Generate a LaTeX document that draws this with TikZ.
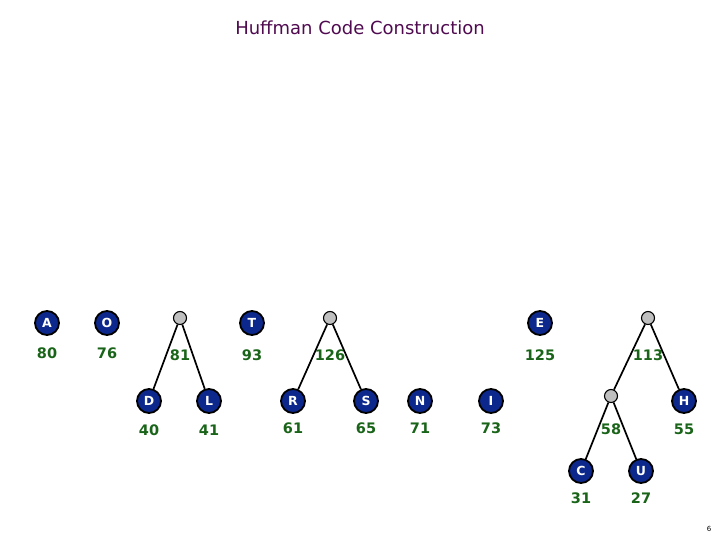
\documentclass[tikz,border=0pt]{standalone}
\usepackage{fontspec}
\setmainfont{DejaVu Sans}
\usetikzlibrary{positioning}
\definecolor{nodeblue}{RGB}{12,40,140}
\definecolor{wtgreen}{RGB}{25,100,25}
\definecolor{ttlpurple}{RGB}{80,10,80}
\tikzset{
    leaf/.style={circle,draw=black,line width=1.8pt,fill=nodeblue,minimum size=24pt,inner sep=0pt,
        text=white,font=\fontsize{12.5}{12.5}\selectfont\bfseries},
    inner/.style={circle,draw=black,line width=1.1pt,fill=black!25,minimum size=13pt,inner sep=0pt},
    wt/.style={text=wtgreen,font=\fontsize{14.5}{14.5}\selectfont\bfseries},
    edge/.style={line width=1.7pt}
}
\begin{document}
\begin{tikzpicture}[x=1pt,y=-1pt]
    \useasboundingbox (0,0) rectangle (720,540);
    \node[text=ttlpurple,font=\fontsize{18}{18}\selectfont] (title) at (360,28) {Huffman Code Construction};
%
    \node[leaf] (A) at (47,323) {A};
    \node[wt] (wA) at (47,353) {80};
    \node[leaf] (O) at (107,323) {O};
    \node[wt] (wO) at (107,353) {76};
%
    \node[inner] (n81) at (180,318) {};
    \node[wt] (w81) at (180,355) {81};
    \node[leaf] (D) at (149,401) {D};
    \node[wt] (wD) at (149,430) {40};
    \node[leaf] (L) at (209,401) {L};
    \node[wt] (wL) at (209,430) {41};
    \draw[edge] (n81) -- (D);
    \draw[edge] (n81) -- (L);
%
    \node[leaf] (T) at (252,323) {T};
    \node[wt] (wT) at (252,355) {93};
%
    \node[inner] (n126) at (330,318) {};
    \node[wt] (w126) at (330,355) {126};
    \node[leaf] (R) at (293,401) {R};
    \node[wt] (wR) at (293,428) {61};
    \node[leaf] (S) at (366,401) {S};
    \node[wt] (wS) at (366,428) {65};
    \draw[edge] (n126) -- (R);
    \draw[edge] (n126) -- (S);
%
    \node[leaf] (N) at (420,401) {N};
    \node[wt] (wN) at (420,428) {71};
    \node[leaf] (I) at (491,401) {I};
    \node[wt] (wI) at (491,428) {73};
    \node[leaf] (E) at (540,323) {E};
    \node[wt] (wE) at (540,355) {125};
%
    \node[inner] (n113) at (648,318) {};
    \node[wt] (w113) at (648,355) {113};
    \node[inner] (n58) at (611,396) {};
    \node[wt] (w58) at (611,429) {58};
    \node[leaf] (H) at (684,401) {H};
    \node[wt] (wH) at (684,429) {55};
    \node[leaf] (C) at (581,471) {C};
    \node[wt] (wC) at (581,498) {31};
    \node[leaf] (U) at (641,471) {U};
    \node[wt] (wU) at (641,498) {27};
    \draw[edge] (n113) -- (n58);
    \draw[edge] (n113) -- (H);
    \draw[edge] (n58) -- (C);
    \draw[edge] (n58) -- (U);
%
    \node[font=\fontsize{7}{7}\selectfont] (pg) at (709,529) {6};
\end{tikzpicture}
\end{document}
